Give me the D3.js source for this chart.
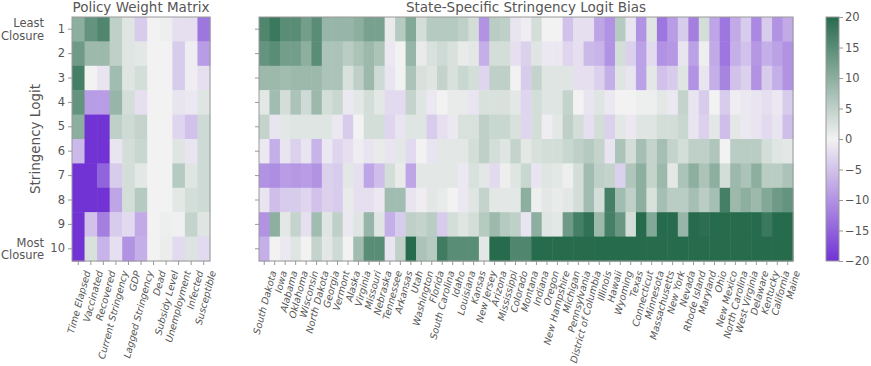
<!DOCTYPE html>
<html><head><meta charset="utf-8">
<script src="https://cdn.jsdelivr.net/npm/d3@7"></script>
<style>
body{margin:0;background:#fff}
svg{display:block}
text{font-family:"DejaVu Sans",sans-serif;fill:#555}
</style>
</head><body>
<svg id="chart" width="871" height="366"></svg>
<script>
const rowLabels = ["1","2","3","4","5","6","7","8","9","10"];
const policyFeatures = ["Time Elapsed","Vaccinated","Recovered","Current Stringency","GDP","Lagged Stringency","Dead","Subsidy Level","Unemployment","Infected","Susceptible"];
const states = ["South Dakota","Iowa","Alabama","Oklahoma","Wisconsin","North Dakota","Georgia","Vermont","Alaska","Virginia","Missouri","Nebraska","Tennessee","Arkansas","Utah","Washington","Florida","South Carolina","Idaho","Louisiana","Kansas","New Jersey","Arizona","Mississippi","Colorado","Montana","Indiana","Oregon","New Hampshire","Michigan","Pennsylvania","District of Columbia","Illinois","Hawaii","Wyoming","Texas","Connecticut","Minnesota","Massachusetts","New York","Nevada","Rhode Island","Maryland","Ohio","New Mexico","North Carolina","West Virginia","Delaware","Kentucky","California","Maine"];

// rows: stringency logit 1..10 ; columns: policy features
const policyWeights = [
  [10, 14, 16, 5, 2, -4, 0, 0.5, -2, -2, -13],
  [13, 8.5, 8.5, 5, 2, 1.5, 0, 0, -4, -0.5, -9],
  [17, 0, -1.5, 8, 2, 3, 0, 0, -4, -0.5, -2],
  [14, -9, -9, 9, 3, -2, 0, 0, -1.5, -1, 2],
  [10, -20, -20, 5, 3.5, 4.5, 0, 0, -3, -5, 3.5],
  [-6, -20, -20, -1.5, 3, 4, 0, 0, 2, -1.5, 3.5],
  [-20, -20, -15, -4, 3, 1.5, 0, 0, 6, 2, 3.5],
  [-20, -20, -20, -8, 3, 6, 0, 0, 1.5, 3, 3.5],
  [-20, -5, -12, -4, -2.5, -7.5, 0, 0.5, -0.3, 4.5, 2],
  [-20, 2.5, -6.5, -2, -10, -7, 0, 0.8, -2.5, 2.2, -2.5]
];

// rows: stringency logit 1..10 ; columns: states
const stateBias = [
  [16,18,15,15,12.5,15,9,9,9,10,12,12, 1,6,11,3,6, 6,6,5,3,-10,5.5,5,-1.5,-0.5,3,0,0,-5,-2,-2,-8,-10, 6,-1.5,-10,2,-13,-9,-4,-12,3,-8,-13,-7.5,-4,-11,-4,-10,-7.5],
  [14,15,12.5,12.5,10,15,7,7,5.5,7,8.5,7, -1,0,9,1,2.5, 3.5,2.5,1,1.5,-7,3,3,-2,-3.5,2,-1,-1,-3,-2,-6,-6.5,-10, 3,-3.5,-8.5,-2.5,-10,-9.5,-1.5,-8.5,0.5,-7.5,-13,-7,-5,-9.5,-7,-8.5,-10],
  [8.5,8.5,8,8.5,8.5,8.5,7,7,2.5,5,8.5,3.5, -1.5,0,7,2.5,2, 4.5,2.5,4,3,-3,5,5,0,-4,4.5,2,2,2,-2,-2,-3.5,-7, 2,-1.5,-8.5,1.5,-5,-4,2,-10,-1.5,-7,-11.5,-5,-3.5,-10,-4,-7,-10],
  [1.5,8,3,7,3.5,8.5,3,4,-1,1.5,3,1.5, -2.5,-2.5,4.5,2,-1, 0,1,1,-1.5,2.5,2.5,2.5,1.5,-3,3,2,2,4.5,0,-1.5,2,-1, 0,0,0.5,0.5,1.5,-1,4.5,-1.5,-4,0,-4,-0.5,-1,-1.5,-2,-1,-4],
  [4.5,-1.5,1.5,2,2,2,2,-1,-4,0,3,3, -3,-1.5,2,2,-4, -2,-1,2.5,2.5,5,4,4,2.5,-3,3,-0.5,1.5,5,3,-2,3,-3.5, 1.5,-1,2,2,3,3,4,-1.5,-3.5,1.5,-5.5,1.5,-1,-1.5,-2.5,-1.5,-5.5],
  [-1,-7,-1.5,-3.5,-1.5,-6.5,-1,-3,-2,-0.5,-1.5,1, -1.5,1.5,-2.5,0,-1.5, 1.5,1.5,1.5,3,5,3,2,4.5,1.5,2.5,3,3,4,5,6,4.5,-1.5, 7,3,7.5,4.5,7.5,4.5,3,5,5,6.5,0,5.5,5.5,5.5,3,2,1.5],
  [-10,-10.5,-9,-9.5,-9,-10,-3.5,-4,1.5,-2,-8,-5.5, 3,1,-8,1.5,1.5, 1.5,1.5,-1,2.5,1.5,-2.5,0.5,2,4,-1.5,2,1.5,0.5,3,8,5,4.5, -3.5,6.5,10,4.5,8.5,1.5,7,10,7,10,3,8.5,7,10,5.5,5.5,7],
  [-1.5,-5.5,-4,-4,-3,-5,-3.5,-4,1,-2,-2,-1, 8,8,-1.5,-0.5,1.5, 1,0,-1,2,4.5,1.5,1.5,1.5,10,0.5,1.5,1,1.5,3,8,3,17, 8,5,10,2.5,7.5,5.5,5.5,7.5,5.5,7.5,17,8.5,10,8.5,11,13,14],
  [-10,10,1.5,4.5,-2,8,2,5,-1,2,9,2, -7,-4,5,4.5,5.5, -4,3,2,3,6,8.5,6,5,-1.5,10,2,1.5,13,17,19,8.5,17, 13.5,3,20,11,20,20,9,20,19.5,20,20,20,20,20,18,20,20],
  [-7,0,-1,2,0,4.5,1.5,3.5,0,8,15,15, -1.5,5,20,7,6, 17.5,15,15,15,1.5,20,20,16,16,20,20,20,20,20,20,20,20, 20,20,20,20,20,20,20,20,20,20,20,20,20,20,20,20,20]
];

const colorTicks = [20, 15, 10, 5, 0, -5, -10, -15, -20];
const colorDomain = [-20, 0, 20];
const colorRange = ["#7133d4", "#f2f2f2", "#276b4d"];

const svg = d3.select("#chart");
const color = d3.scaleLinear().domain(colorDomain).range(colorRange).clamp(true);
const grey = "#555";
const spine = "#999";

const yTop = 17, yBot = 261;

function heatmap(cols, values, x0, x1, title) {
  const g = svg.append("g");
  const x = d3.scaleBand().domain(cols).range([x0, x1]);
  const y = d3.scaleBand().domain(rowLabels).range([yTop, yBot]);
  values.forEach((row, i) => {
    row.forEach((v, j) => {
      g.append("rect")
        .attr("x", x(cols[j])).attr("y", y(rowLabels[i]))
        .attr("width", x.bandwidth() + 0.5).attr("height", y.bandwidth() + 0.5)
        .attr("fill", color(v));
    });
  });
  g.append("rect").attr("x", x0).attr("y", yTop).attr("width", x1 - x0).attr("height", yBot - yTop)
    .attr("fill", "none").attr("stroke", spine).attr("stroke-width", 1);

  const ya = g.append("g").attr("transform", `translate(${x0},0)`)
    .call(d3.axisLeft(y).tickSize(4).tickPadding(3));
  ya.select(".domain").remove();
  ya.selectAll("line").attr("stroke", spine);
  ya.selectAll("text").attr("fill", grey).style("font-size", "11.5px");

  const xa = g.append("g").attr("transform", `translate(0,${yBot})`)
    .call(d3.axisBottom(x).tickSize(4));
  xa.select(".domain").remove();
  xa.selectAll("line").attr("stroke", spine);
  xa.selectAll("text")
    .attr("fill", grey).style("font-size", "9.6px").style("font-style", "italic")
    .attr("text-anchor", "end").attr("dy", "0.35em").attr("y", 0)
    .attr("transform", `translate(9,10) rotate(-75)`);

  g.append("text").attr("x", (x0 + x1) / 2).attr("y", 12)
    .attr("text-anchor", "middle").style("font-size", "13.5px").attr("fill", grey).text(title);
  return {g, ya, y};
}

const leftMap = heatmap(policyFeatures, policyWeights, 72, 210, "Policy Weight Matrix");
const rightMap = heatmap(states, stateBias, 259, 793, "State-Specific Stringency Logit Bias");
rightMap.ya.selectAll("text").remove();

// extra row annotations
const yl = leftMap.y;
const ann = [["Least", "Closure", "1"], ["Most", "Closure", "10"]];
ann.forEach(([a, b, r]) => {
  const cy = yl(r) + yl.bandwidth() / 2;
  svg.append("text").attr("x", 44).attr("y", cy - 6).attr("dy", "0.35em").attr("text-anchor", "end")
    .style("font-size", "11.5px").attr("fill", grey).text(a);
  svg.append("text").attr("x", 44).attr("y", cy + 6.5).attr("dy", "0.35em").attr("text-anchor", "end")
    .style("font-size", "11.5px").attr("fill", grey).text(b);
});

svg.append("text").attr("transform", `translate(40,${(yTop + yBot) / 2}) rotate(-90)`)
  .attr("text-anchor", "middle").style("font-size", "13.5px").attr("fill", grey).text("Stringency Logit");

// colorbar
const cbX = 826, cbW = 13;
const defs = svg.append("defs");
const grad = defs.append("linearGradient").attr("id", "cbgrad").attr("x1", 0).attr("y1", 1).attr("x2", 0).attr("y2", 0);
colorDomain.forEach((d, i) => {
  grad.append("stop").attr("offset", (d - colorDomain[0]) / (colorDomain[2] - colorDomain[0])).attr("stop-color", colorRange[i]);
});
svg.append("rect").attr("x", cbX).attr("y", yTop).attr("width", cbW).attr("height", yBot - yTop)
  .attr("fill", "url(#cbgrad)").attr("stroke", spine).attr("stroke-width", 1);
const cScale = d3.scaleLinear().domain([-20, 20]).range([yBot, yTop]);
const ca = svg.append("g").attr("transform", `translate(${cbX + cbW},0)`)
  .call(d3.axisRight(cScale).tickValues(colorTicks).tickSize(4).tickPadding(2).tickFormat(d => d < 0 ? "\u2212" + Math.abs(d) : d));
ca.select(".domain").remove();
ca.selectAll("line").attr("stroke", spine);
ca.selectAll("text").attr("fill", grey).style("font-size", "11.5px");
</script>
</body></html>
